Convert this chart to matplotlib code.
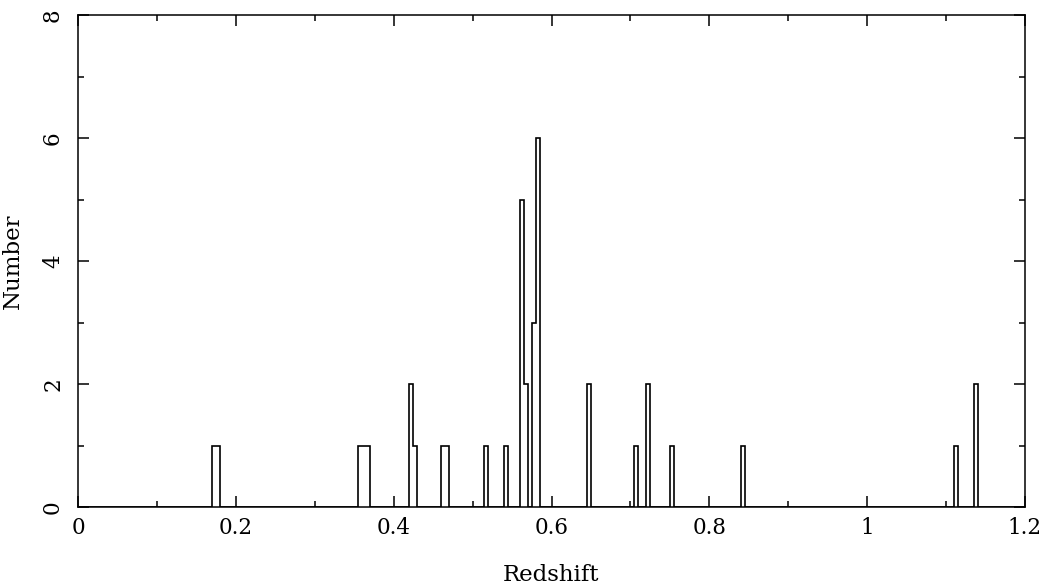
import numpy as np
import matplotlib
matplotlib.use("Agg")
import matplotlib.pyplot as plt
from matplotlib.ticker import MultipleLocator

# Histogram data: lower bin edges (redshift) and counts, bin width 0.005
bin_lower = [0.170, 0.175, 0.355, 0.360, 0.365, 0.420, 0.425, 0.460, 0.465,
             0.515, 0.540, 0.560, 0.565, 0.575, 0.580, 0.645, 0.705, 0.720,
             0.750, 0.840, 1.110, 1.135]
counts = [1, 1, 1, 1, 1, 2, 1, 1, 1,
          1, 1, 5, 2, 3, 6, 2, 1, 2,
          1, 1, 1, 2]
bin_width = 0.005
x_range = (0.0, 1.2)
y_range = (0, 8)
x_ticks = [0, 0.2, 0.4, 0.6, 0.8, 1.0, 1.2]
x_tick_labels = ["0", "0.2", "0.4", "0.6", "0.8", "1", "1.2"]
y_ticks = [0, 2, 4, 6, 8]
y_tick_labels = ["0", "2", "4", "6", "8"]

nbins = int(round((x_range[1] - x_range[0]) / bin_width))
edges = x_range[0] + bin_width * np.arange(nbins + 1)
full = np.zeros(nbins)
for lo, c in zip(bin_lower, counts):
    full[int(round((lo - x_range[0]) / bin_width))] = c

plt.rcParams['font.family'] = ['DejaVu Serif']
fig = plt.figure(figsize=(10.5, 5.88), dpi=100)
ax = fig.add_axes([78/1050, 1-507/588, (1025-78)/1050, (507-15)/588])

ax.stairs(full, edges, color='black', linewidth=1.2, baseline=0)

ax.set_xlim(*x_range)
ax.set_ylim(*y_range)
ax.set_xticks(x_ticks)
ax.set_xticklabels(x_tick_labels)
ax.xaxis.set_minor_locator(MultipleLocator(0.1))
ax.set_yticks(y_ticks)
ax.set_yticklabels(y_tick_labels, rotation=90, va='center')
ax.yaxis.set_minor_locator(MultipleLocator(1))

ax.tick_params(which='both', direction='in', top=True, right=True, width=1.1,
               labelsize=15.5, color='black')
ax.tick_params(which='major', length=8)
ax.tick_params(which='minor', length=4.2)
ax.tick_params(axis='x', which='major', pad=7)
ax.tick_params(axis='y', which='major', pad=10)
for s in ax.spines.values():
    s.set_linewidth(1.1)

ax.set_xlabel("Redshift", fontsize=16.5, labelpad=18)
ax.set_ylabel("Number", fontsize=16.5, labelpad=13)

fig.savefig("out.png", dpi=100)
